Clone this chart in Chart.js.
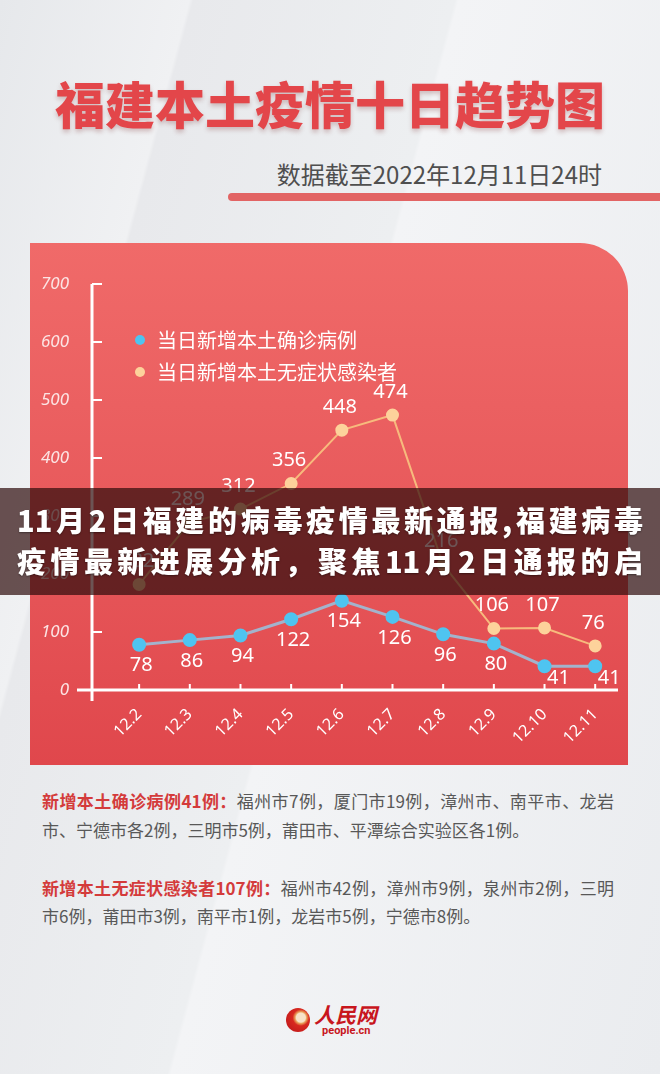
<!DOCTYPE html>
<html>
<head>
<meta charset="utf-8">
<script src="https://cdn.jsdelivr.net/npm/chart.js@4.4.0/dist/chart.umd.min.js"></script>
<style>
  html, body { margin: 0; padding: 0; }
  body {
    width: 660px; height: 1074px; position: relative; overflow: hidden;
    font-family: "Noto Sans CJK SC", "Noto Sans", sans-serif;
    background: linear-gradient(105deg, #e6e8eb 0%, #f0f1f3 20%, #e8e9ec 20.4%, #edeff1 48%, #f3f4f6 48.4%, #eaecef 100%);
  }
  #title {
    position: absolute; left: 0; top: 72px; width: 660px; text-align: center;
    font-size: 50px; line-height: 60px; font-weight: 900; color: #e3464a;
    text-shadow: 0 3px 4px rgba(120, 40, 40, 0.25);
  }
  #subtitle {
    position: absolute; right: 58px; top: 159px;
    font-size: 24px; line-height: 30px; color: #4f4f4f;
  }
  #bar {
    position: absolute; left: 228px; top: 193px; width: 450px; height: 8px;
    border-radius: 4px; background: #e26464;
  }
  #panel {
    position: absolute; left: 30px; top: 243px; width: 598px; height: 522px;
    border-radius: 0 48px 0 0;
    background: linear-gradient(180deg, #f06a69 0%, #e85a5c 50%, #e0474c 100%);
  }
  #panel canvas { position: absolute; left: 0; top: 0; }
  #banner {
    position: absolute; left: 0; top: 488px; width: 660px; height: 107px;
    background: rgba(45, 12, 12, 0.7); z-index: 5;
  }
  #banner div {
    position: absolute; left: 17px; width: 626px;
    font-size: 29px; line-height: 40px; font-weight: 900; color: #fff;
    text-align: justify; text-align-last: justify;
    text-shadow: 0 1px 2px rgba(0, 0, 0, 0.4);
  }
  .note {
    position: absolute; left: 42px; width: 572px;
    font-size: 17px; line-height: 29px; color: #585858;
  }
  .note.full { text-align: justify; text-align-last: justify; }
  .note b { color: #d43b3b; font-weight: 700; }
  #logoMark {
    position: absolute; left: 286px; top: 1008px; width: 24px; height: 24px; border-radius: 50%;
    background: radial-gradient(circle at 62% 40%, #f7e2c8 0 22%, #e9a25a 28%, #d8281f 40%, #b8141a 100%);
  }
  #logoText {
    position: absolute; left: 314px; top: 1001px; font-size: 21px; line-height: 26px;
    font-weight: 700; color: #c8161d; font-style: italic;
  }
  #logoSub {
    position: absolute; left: 322px; top: 1025px; font-size: 11px; line-height: 12px;
    font-family: Roboto, sans-serif; font-weight: 700; color: #c8161d;
  }
</style>
</head>
<body>
<div id="title">福建本土疫情十日趋势图</div>
<div id="subtitle">数据截至2022年12月11日24时</div>
<div id="bar"></div>

<div id="panel"><canvas id="trendChart" width="598" height="522"></canvas></div>

<div id="banner">
  <div style="top: 11px;">11月2日福建的病毒疫情最新通报,福建病毒</div>
  <div style="top: 52px;">疫情最新进展分析，聚焦11月2日通报的启</div>
</div>

<div class="note full" style="top: 786px;"><b>新增本土确诊病例41例：</b>福州市7例，厦门市19例，漳州市、南平市、龙岩</div>
<div class="note" style="top: 815px;">市、宁德市各2例，三明市5例，莆田市、平潭综合实验区各1例。</div>
<div class="note full" style="top: 873px;"><b>新增本土无症状感染者107例：</b>福州市42例，漳州市9例，泉州市2例，三明</div>
<div class="note" style="top: 901px;">市6例，莆田市3例，南平市1例，龙岩市5例，宁德市8例。</div>

<div id="logoMark"></div>
<div id="logoText">人民网</div>
<div id="logoSub">people.cn</div>

<script>
const dates = ["12.2", "12.3", "12.4", "12.5", "12.6", "12.7", "12.8", "12.9", "12.10", "12.11"];
const confirmed = [78, 86, 94, 122, 154, 126, 96, 80, 41, 41];
const asymptomatic = [182, 289, 312, 356, 448, 474, 216, 106, 107, 76];
const seriesNames = ["当日新增本土确诊病例", "当日新增本土无症状感染者"];
const yMax = 700;
const yStep = 100;

const numFont = '"Noto Sans", "DejaVu Sans", sans-serif';
const cjkFont = '"Noto Sans CJK SC", sans-serif';

// white axis lines like the poster: y axis sticks out below 0, x axis starts left of y axis
const posterAxes = {
  id: "posterAxes",
  beforeDatasetsDraw(chart) {
    const { ctx, chartArea: a, scales: { x, y } } = chart;
    const y0 = y.getPixelForValue(0);
    ctx.save();
    ctx.strokeStyle = "#fff";
    ctx.lineWidth = 3;
    ctx.beginPath();
    ctx.moveTo(a.left, y.getPixelForValue(yMax));
    ctx.lineTo(a.left, y0 + 11);
    ctx.moveTo(a.left - 15, y0);
    ctx.lineTo(a.right, y0);
    ctx.stroke();
    ctx.lineWidth = 2;
    ctx.beginPath();
    y.ticks.forEach(t => {
      const py = y.getPixelForValue(t.value);
      ctx.moveTo(a.left, py);
      ctx.lineTo(a.left + 10, py);
    });
    x.ticks.forEach(t => {
      const px = x.getPixelForValue(t.value);
      ctx.moveTo(px, y0);
      ctx.lineTo(px, y0 - 6);
    });
    ctx.stroke();
    ctx.restore();
  }
};

// numbers next to each point
const valueLabels = {
  id: "valueLabels",
  afterDatasetsDraw(chart) {
    const ctx = chart.ctx;
    ctx.save();
    ctx.font = "20px " + numFont;
    ctx.fillStyle = "#fff";
    ctx.textAlign = "center";
    ctx.textBaseline = "middle";
    chart.data.datasets.forEach((ds, di) => {
      chart.getDatasetMeta(di).data.forEach((pt, i) => {
        let dx = -2, dy = -23;
        if (di === 0) {
          dx = 2; dy = 21;
          if (i >= ds.data.length - 2) { dx = 14; dy = 12; }
        }
        ctx.fillText(String(ds.data[i].y), pt.x + dx, pt.y + dy);
      });
    });
    ctx.restore();
  }
};

// legend sits inside the plot, top left
const insideLegend = {
  id: "insideLegend",
  afterDraw(chart) {
    const { ctx, chartArea: a } = chart;
    ctx.save();
    ctx.font = "20px " + cjkFont;
    ctx.textBaseline = "middle";
    chart.data.datasets.forEach((ds, i) => {
      const ly = a.top + 56 + i * 32;
      ctx.fillStyle = ds.pointBackgroundColor;
      ctx.beginPath();
      ctx.arc(a.left + 48, ly, 5, 0, Math.PI * 2);
      ctx.fill();
      ctx.fillStyle = "#fff";
      ctx.fillText(ds.label, a.left + 65, ly);
    });
    ctx.restore();
  }
};

const ctx = document.getElementById("trendChart").getContext("2d");
new Chart(ctx, {
  type: "line",
  data: {
    datasets: [
      {
        label: seriesNames[0],
        data: confirmed.map((v, i) => ({ x: i, y: v })),
        borderColor: "#a3b3cc",
        borderWidth: 3,
        pointBackgroundColor: "#4fc4f0",
        pointBorderColor: "#4fc4f0",
        pointRadius: 5.5,
        tension: 0
      },
      {
        label: seriesNames[1],
        data: asymptomatic.map((v, i) => ({ x: i, y: v })),
        borderColor: "#f7ba7d",
        borderWidth: 2,
        pointBackgroundColor: "#fdd29b",
        pointBorderColor: "#fdd29b",
        pointRadius: 5.5,
        tension: 0
      }
    ]
  },
  options: {
    responsive: false,
    animation: false,
    layout: { padding: { top: 41, right: 10, left: 0, bottom: 0 } },
    plugins: { legend: { display: false }, tooltip: { enabled: false } },
    scales: {
      x: {
        type: "linear",
        min: -0.93,
        max: 9.45,
        grid: { display: false },
        border: { display: false },
        afterBuildTicks: scale => { scale.ticks = dates.map((d, i) => ({ value: i })); },
        afterFit: scale => { scale.height = 75; },
        ticks: {
          autoSkip: false,
          minRotation: 45,
          maxRotation: 45,
          padding: 7,
          color: "#fff",
          font: { size: 16, family: numFont },
          callback: v => dates[v]
        }
      },
      y: {
        min: 0,
        max: yMax,
        grid: { display: false },
        border: { display: false },
        afterFit: scale => { scale.width = 62; },
        ticks: {
          stepSize: yStep,
          padding: 15,
          color: "#fce4e4",
          font: { size: 17, style: "italic", family: numFont }
        }
      }
    }
  },
  plugins: [posterAxes, valueLabels, insideLegend]
});
</script>
</body>
</html>
